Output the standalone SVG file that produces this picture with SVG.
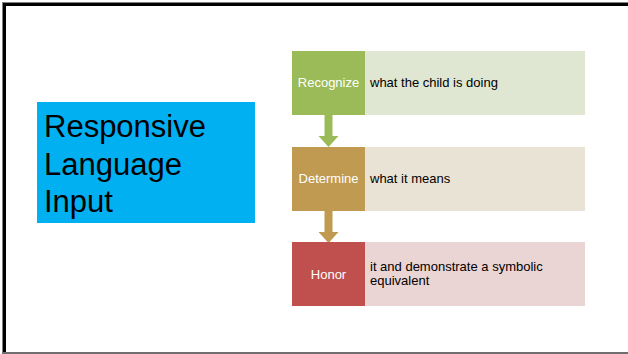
<svg xmlns="http://www.w3.org/2000/svg" width="628" height="354" viewBox="0 0 628 354">
  <defs>
    <style>
      .t { font-family: "Liberation Sans", Arial, sans-serif; font-size: 13px; }
      .lbl { fill: #ffffff; text-anchor: middle; }
      .desc { fill: #000000; }
      .title { font-family: "Liberation Sans", Arial, sans-serif; font-size: 31px; fill: #000000; }
    </style>
  </defs>

  <!-- page background and frame -->
  <rect x="0" y="0" width="628" height="354" fill="#ffffff"/>
  <rect x="2" y="2" width="626" height="1" fill="#808080"/>
  <rect x="2" y="2" width="1" height="351" fill="#808080"/>
  <rect x="3" y="3" width="625" height="3" fill="#000000"/>
  <rect x="3" y="3" width="3" height="350" fill="#000000"/>
  <rect x="2" y="352" width="626" height="2" fill="#6e6e6e"/>

  <!-- title block -->
  <g id="title">
    <rect x="37" y="102" width="218" height="121" fill="#00b0f0"/>
    <text class="title" x="44" y="137">Responsive</text>
    <text class="title" x="44" y="174.5">Language</text>
    <text class="title" x="44" y="212">Input</text>
  </g>

  <!-- connectors -->
  <g id="connectors">
    <path d="M324.5 115 H332.5 V136 H338.5 L328.5 147 L318.5 136 H324.5 Z" fill="#9bbb59"/>
    <path d="M324.5 211 H332.5 V232 H338.5 L328.5 243 L318.5 232 H324.5 Z" fill="#c09a51"/>
  </g>

  <!-- steps -->
  <g id="recognize">
    <rect x="365" y="51" width="220" height="64" fill="#dfe7d2"/>
    <rect x="292" y="51" width="73" height="64" fill="#9bbb59"/>
    <text class="t lbl" x="328.5" y="87">Recognize</text>
    <text class="t desc" x="370" y="87">what the child is doing</text>
  </g>

  <g id="determine">
    <rect x="365" y="147" width="220" height="64" fill="#e9e3d5"/>
    <rect x="292" y="147" width="73" height="64" fill="#c09a51"/>
    <text class="t lbl" x="328.5" y="183">Determine</text>
    <text class="t desc" x="370" y="183">what it means</text>
  </g>

  <g id="honor">
    <rect x="365" y="242" width="220" height="64" fill="#ebd4d4"/>
    <rect x="292" y="242" width="73" height="64" fill="#c0504d"/>
    <text class="t lbl" x="328.5" y="278.5">Honor</text>
    <text class="t desc" x="370" y="271">it and demonstrate a symbolic</text>
    <text class="t desc" x="370" y="285">equivalent</text>
  </g>
</svg>
